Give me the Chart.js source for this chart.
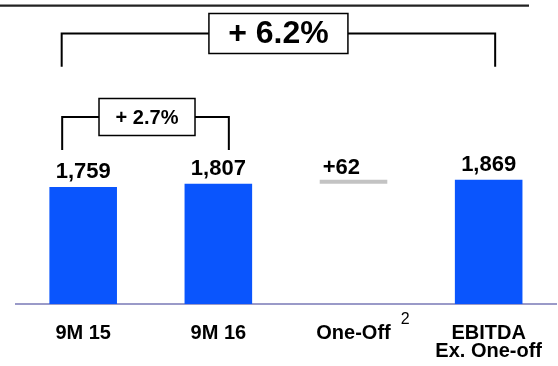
<!DOCTYPE html>
<html>
<head>
<meta charset="utf-8">
<script src="https://cdn.jsdelivr.net/npm/chart.js@4"></script>
<style>
  html, body { margin: 0; padding: 0; background: #fff; overflow: hidden; }
  #wrap { width: 562px; height: 366px; }
</style>
</head>
<body>
<div id="wrap"><canvas id="grafico" width="562" height="366"></canvas></div>
<script>
var categorias = ["9M 15", "9M 16", "One-Off", ["EBITDA", "Ex. One-off"]];
var valores = [1759, 1807, 62, 1869];
var ehPasso = [false, false, true, false];
var crescimentos = ["+ 2.7%", "+ 6.2%"];
var nota = "2";

var fonte = "'Liberation Sans', Arial, sans-serif";

// barras flutuantes: o passo comeca no valor anterior
var dados_barras = [];
var cores = [];
for (var i = 0; i < valores.length; i++) {
  if (ehPasso[i]) {
    dados_barras.push([valores[i - 1], valores[i - 1] + valores[i]]);
    cores.push("#c3c3c3");
  } else {
    dados_barras.push([0, valores[i]]);
    cores.push("#0a55fd");
  }
}

function rotulo(i) {
  if (ehPasso[i]) return "+" + valores[i];
  return valores[i].toLocaleString("en-US");
}

var desenhos = {
  id: "desenhos",
  afterDraw: function (chart) {
    var c = chart.ctx;
    var barras = chart.getDatasetMeta(0).data;
    var escalaX = chart.scales.x;
    c.save();

    // linha do topo
    c.strokeStyle = "#222";
    c.lineWidth = 2.2;
    c.beginPath();
    c.moveTo(0, 5.7);
    c.lineTo(529, 5.7);
    c.stroke();

    // valores em cima das barras
    c.fillStyle = "#000";
    c.font = "bold 22px " + fonte;
    c.textBaseline = "alphabetic";
    for (var i = 0; i < barras.length; i++) {
      var b = barras[i];
      if (ehPasso[i]) {
        c.textAlign = "left";
        c.fillText(rotulo(i), b.x - b.width / 2 + 3, b.y - 6);
      } else {
        c.textAlign = "center";
        c.fillText(rotulo(i), b.x, b.y - 9);
      }
    }

    // nota "2" ao lado do One-Off
    c.font = "bold 20px " + fonte;
    var larg = c.measureText(categorias[2]).width;
    c.font = "16px " + fonte;
    c.textAlign = "left";
    c.fillText(nota, escalaX.getPixelForTick(2) + larg / 2 + 10, 324);

    // colchetes de crescimento
    function colchete(x1, x2, y, yFim, texto, tam, bw, bh, dx) {
      var meio = (x1 + x2) / 2 + dx;
      c.strokeStyle = "#000";
      c.lineWidth = 2;
      c.beginPath();
      c.moveTo(x1, yFim);
      c.lineTo(x1, y);
      c.lineTo(meio - bw / 2, y);
      c.moveTo(meio + bw / 2, y);
      c.lineTo(x2, y);
      c.lineTo(x2, yFim);
      c.stroke();
      c.lineWidth = 1.5;
      c.fillStyle = "#fff";
      c.fillRect(meio - bw / 2, y - bh / 2, bw, bh);
      c.strokeRect(meio - bw / 2, y - bh / 2, bw, bh);
      c.fillStyle = "#000";
      c.font = "bold " + tam + "px " + fonte;
      c.textAlign = "center";
      c.textBaseline = "middle";
      c.fillText(texto, meio, y + 1);
    }
    colchete(barras[0].x - 21, barras[1].x + 10.5, 117, 150, crescimentos[0], 20, 96, 37, 1.5);
    colchete(barras[0].x - 21.5, barras[3].x + 6.5, 33.5, 66.7, crescimentos[1], 32, 139, 40, 0);

    c.restore();
  },
};

var config = {
  type: "bar",
  data: {
    labels: categorias,
    datasets: [
      {
        data: dados_barras,
        backgroundColor: cores,
        borderWidth: 0,
        categoryPercentage: 1,
        barPercentage: 0.5,
      },
    ],
  },
  options: {
    responsive: false,
    animation: false,
    devicePixelRatio: 1,
    layout: { padding: { left: 15.6, right: 0, top: 0, bottom: 0 } },
    plugins: { legend: { display: false }, tooltip: { enabled: false } },
    scales: {
      x: {
        grid: { display: false, drawTicks: false },
        border: { display: true, color: "#9a9ac8", width: 2 },
        ticks: {
          color: "#000",
          padding: 20,
          font: { family: fonte, size: 20, weight: "bold", lineHeight: 0.9 },
        },
        afterFit: function (scale) {
          scale.height = 62;
        },
      },
      y: {
        display: false,
        min: 0,
        max: 4571,
      },
    },
  },
  plugins: [desenhos],
};

var grafico = new Chart(document.getElementById("grafico"), config);
</script>
</body>
</html>
